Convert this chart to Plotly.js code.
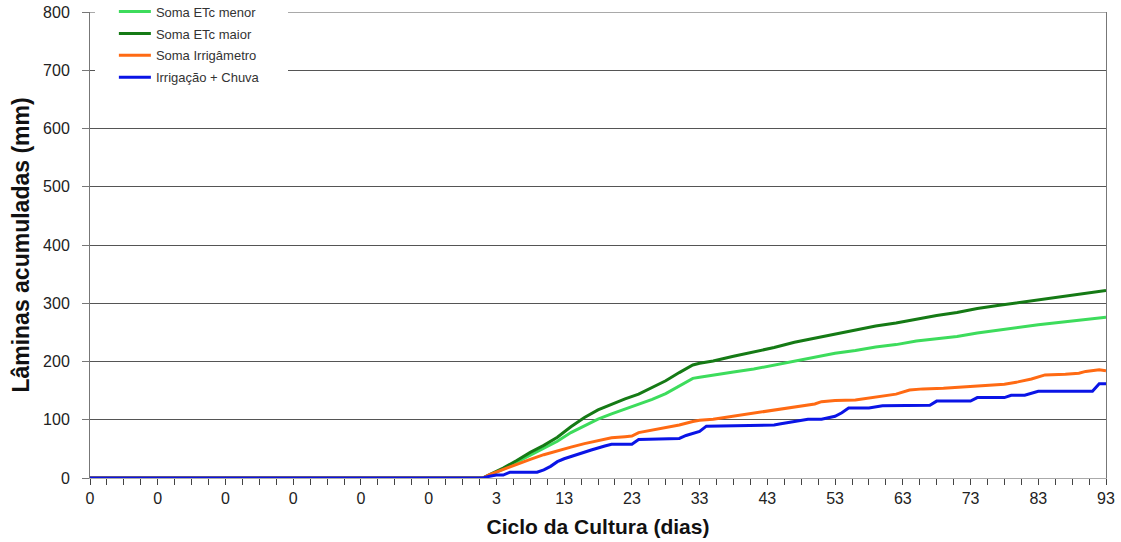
<!DOCTYPE html>
<html>
<head>
<meta charset="utf-8">
<script src="https://cdn.plot.ly/plotly-3.0.1.min.js"></script>
<style>
html,body{margin:0;padding:0;background:#fff;}
#chart{width:1121px;height:542px;}
</style>
</head>
<body>
<div id="chart"></div>
<script>
// Tick labels of the original category axis (one label every 10 entries)
const rotulosX = ['0','0','0','0','0','0','3','13','23','33','43','53','63','73','83','93'];
// The category axis has 58 leading "day 0" entries, then days 1..93
const nEntradasDiaZero = 58;

// Soma ETc menor
const diasEtcMenor = [0,1,2,4,6,8,10,12,14,16,18,20,22,24,26,28,30,32,33,35,38,41,44,47,50,53,56,59,62,65,68,71,74,77,80,83,86,89,93];
const etcMenor     = [0,0,5,15,27,39,51,63,78,90,101,110,118,126,135,145,158,171,173,177,182,187,194,201,208,214,219,225,229,235,239,243,249,254,258,263,267,271,276];

// Soma ETc maior
const diasEtcMaior = [0,1,2,4,6,8,10,12,14,16,18,20,22,24,26,28,30,32,33,35,38,41,44,47,50,53,56,59,62,65,68,71,74,77,80,83,86,89,93];
const etcMaior     = [0,0,6,17,30,44,56,70,88,104,117,127,136,144,155,167,181,194,197,201,209,216,224,233,240,248,254,261,266,273,279,284,291,296,301,306,311,316,322];

// Soma Irrigâmetro
const diasIrrig = [0,1,2,4,6,8,10,12,14,16,18,20,22,23,24,26,28,30,32,33,35,38,41,44,47,50,51,53,56,59,62,64,66,69,72,75,78,80,82,84,87,89,90,92,93];
const irrigametro = [0,0,6,15,24,32,40,47,53,59,64,69,71,72,78,82,86,91,97,99,101,106,112,116,122,127,131,133,134,139,144,151,153,154,156,158,161,165,170,177,178,180,183,186,184];

// Irrigação + Chuva
const diasChuva = [0,1,2,3,4,5,9,10,11,12,13,15,17,19,20,23,24,27,30,31,33,34,44,45,47,49,51,53,54,55,58,60,67,68,73,74,78,79,81,83,91,92,93];
const irrigChuva = [0,0,3,5,5,10,10,14,20,28,33,41,48,55,58,58,66,67,68,73,80,89,91,93,97,101,101,106,112,120,120,124,125,132,132,138,138,142,142,149,149,162,162];

const nomes = ['Soma ETc menor','Soma ETc maior','Soma Irrigâmetro','Irrigação + Chuva'];
const cores = ['#3ddc5c','#157a15','#ff6a13','#0a14e6'];

function posicoes(dias){
  // position in the category sequence: flat "0" block starts at entry 0
  const x = [0];
  dias.forEach(d => x.push(nEntradasDiaZero - 1 + d));
  return x;
}
function valores(v){ return [0].concat(v); }

const series = [[diasEtcMenor, etcMenor],[diasEtcMaior, etcMaior],[diasIrrig, irrigametro],[diasChuva, irrigChuva]];
const traces = series.map((s,i)=>({
  x: posicoes(s[0]), y: valores(s[1]),
  type:'scatter', mode:'lines', name: nomes[i],
  line:{color: cores[i], width:3},
  legendgroup:'g'+i
}));

const nTotal = nEntradasDiaZero + 93; // 151 entries
const tickvals = rotulosX.map((_,i)=>i*10);
const yMax = 800;

const layout = {
  width:1121, height:542,
  margin:{l:90, r:15, t:12, b:64, autoexpand:false},
  paper_bgcolor:'#fff', plot_bgcolor:'#fff',
  font:{family:'Liberation Sans, Arial, sans-serif', color:'#222'},
  showlegend:true,
  legend:{
    x:0.0235, y:1.033, xanchor:'left', yanchor:'top',
    bgcolor:'rgba(255,255,255,0)',
    font:{size:13, color:'#333'},
    traceorder:'grouped', tracegroupgap:2,
    itemwidth:32
  },
  xaxis:{
    range:[0, nTotal-1], tickmode:'array', tickvals:tickvals, ticktext:rotulosX,
    showgrid:false, zeroline:false,
    showline:true, linecolor:'#aaa', linewidth:1,
    ticks:'outside', ticklen:6, tickcolor:'#444',
    minor:{dtick:2.5, tick0:0, ticks:'outside', ticklen:6, tickcolor:'#444', showgrid:false},
    tickfont:{size:16, color:'#222'},
    title:{text:'Ciclo da Cultura (dias)', font:{size:21, color:'#111', weight:'bold'}, standoff:13}
  },
  yaxis:{
    range:[0,yMax], tickvals:[0,100,200,300,400,500,600,700,800],
    showgrid:true, gridcolor:'#555', gridwidth:1,
    zeroline:false, showline:true, linecolor:'#777', linewidth:1, mirror:true,
    ticks:'outside', ticklen:7, tickcolor:'#777',
    ticklabelstandoff:9,
    tickfont:{size:16, color:'#222'},
    title:{text:'Lâminas acumuladas (mm)', font:{size:23, color:'#111', weight:'bold'}, standoff:7}
  },
  shapes:[
    {type:'line', xref:'paper', yref:'y', x0:0, x1:1, y0:yMax, y1:yMax, layer:'below', line:{color:'#555', width:1}},
    {type:'rect', xref:'paper', yref:'paper', layer:'above',
     x0:5/1016, x1:198/1016, y0:1-78/466, y1:1.03,
     fillcolor:'#fff', line:{width:0}}
  ]
};

Plotly.newPlot('chart', traces, layout, {displayModeBar:false, staticPlot:true});
</script>
</body>
</html>
